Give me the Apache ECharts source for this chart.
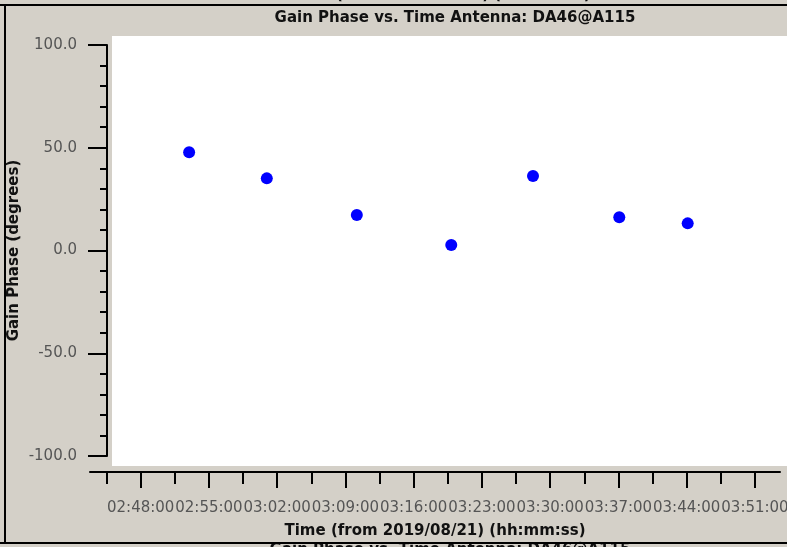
<!DOCTYPE html>
<html>
<head>
<meta charset="utf-8">
<script src="https://cdn.jsdelivr.net/npm/echarts@6/dist/echarts.min.js"></script>
<style>
html,body{margin:0;padding:0;background:#d4d0c8;}
#c{width:787px;height:547px;}
</style>
</head>
<body>
<div id="c"></div>
<script>
// ---- data ----
const times = ['02:52:58','03:00:56','03:10:10','03:19:51','03:28:14','03:37:05','03:44:06'];
const phases = [47.8, 35.1, 17.3, 2.7, 36.3, 16.2, 13.2];
const xTickLabels = ['02:48:00','02:55:00','03:02:00','03:09:00','03:16:00','03:23:00','03:30:00','03:37:00','03:44:00','03:51:00'];
const xRange = ['02:42:48','03:53:34'];
const yTicks = [-100, -50, 0, 50, 100];
const titleText = 'Gain Phase vs. Time Antenna: DA46@A115';
const xName = 'Time (from 2019/08/21) (hh:mm:ss)';
const yName = 'Gain Phase (degrees)';

function toSec(s){const p=s.split(':').map(Number);return p[0]*3600+p[1]*60+p[2];}
function fmt(v){v=Math.round(v);const h=Math.floor(v/3600),m=Math.floor((v%3600)/60),s=v%60;
  return [h,m,s].map(x=>String(x).padStart(2,'0')).join(':');}

const majors = xTickLabels.map(toSec);
const half = (majors[1]-majors[0])/2;
const allTicks = [];
majors.forEach(v=>{allTicks.push(v-half);allTicks.push(v);});

const font = 'DejaVu Sans';
const chart = echarts.init(document.getElementById('c'));
chart.setOption({
  backgroundColor:'#d4d0c8',
  animation:false,
  title:{text:titleText,left:450,top:6,textAlign:'center',
    textStyle:{fontFamily:font,fontSize:15,fontWeight:'bold',color:'#111'}},
  grid:[
    {left:112,top:36,right:0,bottom:81,show:true,backgroundColor:'#ffffff',borderWidth:0,outerBoundsMode:'none',containLabel:false},
    {left:90,top:45,right:7,bottom:91,outerBoundsMode:'none',containLabel:false}
  ],
  xAxis:[
    {gridIndex:0,show:false,type:'value'},
    {gridIndex:1,type:'value',position:'bottom',offset:16,min:toSec(xRange[0]),max:toSec(xRange[1]),
      axisLine:{show:true,onZero:false,lineStyle:{color:'#000',width:2}},
      axisTick:{show:true,length:12,customValues:allTicks,lineStyle:{color:'#000',width:2}},
      axisLabel:{show:false},splitLine:{show:false}},
    {gridIndex:1,type:'value',position:'bottom',offset:16,min:toSec(xRange[0]),max:toSec(xRange[1]),
      name:xName,nameLocation:'middle',nameGap:52,nameMoveOverlap:false,
      nameTextStyle:{fontFamily:font,fontSize:15,fontWeight:'bold',color:'#111'},
      axisLine:{show:false,onZero:false},
      axisTick:{show:true,length:16,customValues:majors,lineStyle:{color:'#000',width:2}},
      axisLabel:{show:true,customValues:majors,margin:29,formatter:fmt,showMinLabel:true,showMaxLabel:true,hideOverlap:false,
        fontFamily:font,fontSize:15,color:'#555'},
      splitLine:{show:false}}
  ],
  yAxis:[
    {gridIndex:0,show:false,type:'value'},
    {gridIndex:1,type:'value',offset:-17,min:yTicks[0],max:yTicks[yTicks.length-1],interval:50,
      name:yName,nameLocation:'middle',nameGap:85,nameRotate:90,nameMoveOverlap:false,
      nameTextStyle:{fontFamily:font,fontSize:15,fontWeight:'bold',color:'#111'},
      axisLine:{show:true,onZero:false,lineStyle:{color:'#000',width:2}},
      axisTick:{show:true,length:19,lineStyle:{color:'#000',width:2}},
      minorTick:{show:true,splitNumber:5,length:7,lineStyle:{color:'#000',width:2}},
      axisLabel:{margin:30,formatter:v=>v.toFixed(1),showMinLabel:true,showMaxLabel:true,fontFamily:font,fontSize:15,color:'#555'},
      splitLine:{show:false},minorSplitLine:{show:false}}
  ],
  graphic:[
    {type:'rect',shape:{x:0,y:4,width:787,height:2},style:{fill:'#000'},z:100},
    {type:'rect',shape:{x:4,y:4,width:2,height:539},style:{fill:'#000'},z:100},
    {type:'rect',shape:{x:0,y:542,width:787,height:2},style:{fill:'#000'},z:100},
    {type:'text',x:440,y:-12,style:{text:xName,fontFamily:font,fontSize:15,fontWeight:'bold',fill:'#111',align:'center'},z:90},
    {type:'text',x:450,y:543,style:{text:titleText,fontFamily:font,fontSize:15,fontWeight:'bold',fill:'#111',align:'center'},z:90}
  ],
  series:[{
    type:'scatter',xAxisIndex:2,yAxisIndex:1,symbol:'circle',symbolSize:12,
    itemStyle:{color:'#0000ff',opacity:1},
    data:times.map((t,i)=>[toSec(t),phases[i]])
  }]
});
</script>
</body>
</html>
